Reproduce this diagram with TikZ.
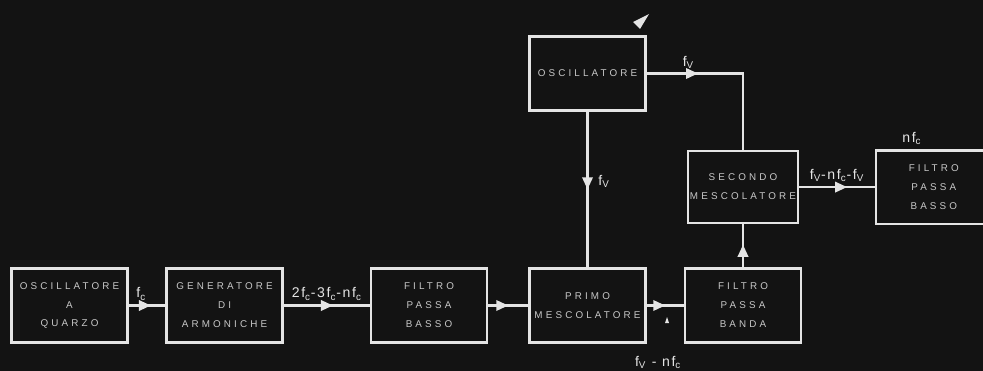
\documentclass[tikz,border=0pt]{standalone}
\usepackage{fontspec}
\setsansfont{Liberation Sans}
\usetikzlibrary{arrows.meta, decorations.markings, positioning, calc}
\definecolor{bgdark}{HTML}{131313}
\definecolor{inkwhite}{HTML}{E4E4E4}
\definecolor{inkgray}{HTML}{C8C8C8}
\tikzset{
  blockbox/.style={draw=inkwhite, line width=1.8pt, fill=bgdark, text=inkgray,
    minimum width=2.9cm, minimum height=1.86cm, align=center, inner sep=1pt, outer sep=0pt,
    font=\sffamily\fontsize{7}{13.5}\selectfont\addfontfeature{LetterSpace=32}},
  flowline/.style={draw=inkwhite, line width=1.6pt},
  midarrow/.style={flowline, postaction={decorate},
    decoration={markings, mark=at position #1 with {\arrow[inkwhite]{Triangle[length=3mm, width=2.6mm]}}}},
  lbl/.style={text=inkwhite, font=\sffamily\fontsize{10}{11}\selectfont\addfontfeature{LetterSpace=12}, inner sep=1pt}
}
\begin{document}
\begin{tikzpicture}
  \fill[bgdark] (0,0) rectangle (24.575,-9.275);
  \useasboundingbox (0,0) rectangle (24.575,-9.275);

  % main chain
  \node[blockbox] (oscq) at (1.7375,-7.6375) {OSCILLATORE\\A\\QUARZO};
  \node[blockbox, right=0.975cm of oscq] (genarm) {GENERATORE\\DI\\ARMONICHE};
  \node[blockbox, right=2.2125cm of genarm] (fbasso) {FILTRO\\PASSA\\BASSO};
  \node[blockbox, right=1.0625cm of fbasso] (primo) {PRIMO\\MESCOLATORE};
  \node[blockbox, right=0.9875cm of primo] (fbanda) {FILTRO\\PASSA\\BANDA};

  % upper branch
  \node[blockbox, minimum height=1.84cm, above=3.95cm of primo] (oscv) {OSCILLATORE};
  \node[blockbox, minimum width=2.76cm, minimum height=1.8cm, above=1.13cm of fbanda] (secondo) {SECONDO\\MESCOLATORE};
  \node[blockbox, minimum height=1.84cm, right=1.94cm of secondo] (fbasso2) {FILTRO\\PASSA\\BASSO};

  \draw[midarrow=0.6] (oscq) -- node[lbl, above=2pt, pos=0.35] (lfc) {f\textsubscript{c}} (genarm);
  \draw[midarrow=0.57] (genarm) -- node[lbl, above=2pt] (lharm) {2f\textsubscript{c}-3f\textsubscript{c}-nf\textsubscript{c}} (fbasso);
  \draw[midarrow=0.5] (fbasso) -- (primo);
  \draw[midarrow=0.5] (primo) -- (fbanda);
  \draw[midarrow=0.5] (oscv) -- node[lbl, right=6pt, pos=0.45] (lfv1) {f\textsubscript{V}} (primo);
  \draw[midarrow=0.3] (oscv.east) -- node[lbl, above=2pt, pos=0.44] (lfv2) {f\textsubscript{V}} (oscv.east -| secondo.north) -- (secondo.north);
  \draw[midarrow=0.52] (fbanda) -- (secondo);
  \draw[midarrow=0.63] (secondo) -- node[lbl, above=2pt] (lout) {f\textsubscript{V}-nf\textsubscript{c}-f\textsubscript{V}} (fbasso2);

  \node[lbl, anchor=south] (lnfc) at ($(fbasso2.north west)+(0.9,0.1)$) {nf\textsubscript{c}};
  \node[lbl] (lmix) at ($(primo.south east)!0.5!(fbanda.south west)+(-0.18,-0.5)$) {f\textsubscript{V} - nf\textsubscript{c}};

  % stray marks
  \fill[inkwhite] (16.225,-0.35) -- (15.825,-0.55) -- (16.0,-0.725) -- cycle;
  \fill[inkwhite] (16.625,-8.075) -- (16.725,-8.075) -- (16.675,-7.925) -- cycle;
\end{tikzpicture}
\end{document}
